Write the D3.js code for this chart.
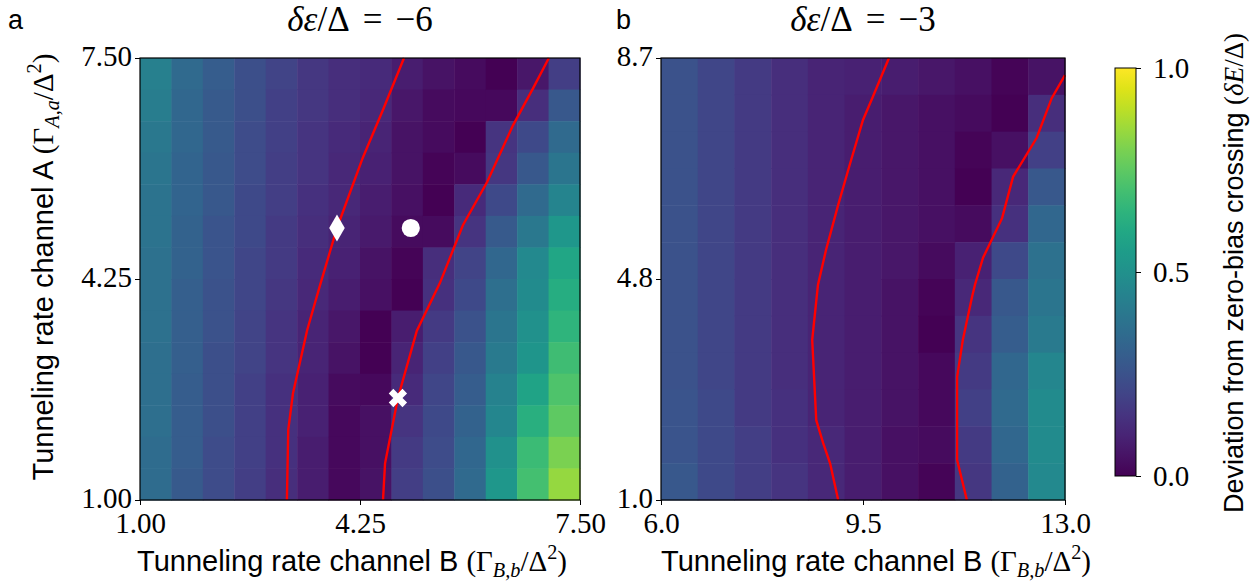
<!DOCTYPE html>
<html lang="en">
<head>
<meta charset="utf-8">
<title>Zero-bias crossing maps</title>
<script src="https://d3js.org/d3.v7.min.js"></script>
<style>
  body { margin: 0; background: white; }
  .tick text { font-family: "Liberation Serif", serif; font-size: 29px; fill: #000; }
  .tick line { stroke: #000; }
</style>
</head>
<body>
<script>
// ---- data (columns listed left -> right, each column top -> bottom) ----
var extentA = { x: [1.0, 7.5], y: [1.0, 7.5] };
var extentB = { x: [6.0, 13.0], y: [1.0, 8.7] };

var valuesA = [
  [0.43,0.42,0.40,0.39,0.38,0.38,0.37,0.37,0.37,0.36,0.36,0.36,0.35,0.35],
  [0.34,0.33,0.33,0.32,0.32,0.31,0.31,0.30,0.30,0.30,0.29,0.29,0.29,0.28],
  [0.29,0.28,0.28,0.27,0.27,0.26,0.26,0.25,0.25,0.24,0.24,0.24,0.23,0.23],
  [0.24,0.24,0.23,0.23,0.22,0.22,0.21,0.21,0.20,0.20,0.19,0.19,0.19,0.18],
  [0.20,0.19,0.19,0.18,0.18,0.17,0.17,0.16,0.15,0.15,0.14,0.14,0.14,0.13],
  [0.16,0.16,0.15,0.15,0.14,0.13,0.12,0.11,0.10,0.10,0.09,0.09,0.08,0.08],
  [0.13,0.13,0.12,0.11,0.11,0.10,0.09,0.08,0.06,0.05,0.03,0.02,0.02,0.02],
  [0.12,0.11,0.10,0.09,0.08,0.07,0.05,0.04,0.00,0.00,0.02,0.04,0.04,0.05],
  [0.08,0.06,0.05,0.05,0.04,0.03,0.01,0.00,0.08,0.10,0.12,0.15,0.17,0.18],
  [0.05,0.03,0.03,0.01,0.00,0.03,0.13,0.14,0.17,0.19,0.21,0.22,0.23,0.24],
  [0.03,0.02,0.00,0.03,0.12,0.15,0.20,0.22,0.25,0.27,0.29,0.31,0.33,0.34],
  [0.00,0.02,0.15,0.16,0.22,0.28,0.33,0.36,0.39,0.41,0.44,0.46,0.50,0.53],
  [0.06,0.13,0.22,0.27,0.34,0.40,0.47,0.48,0.50,0.52,0.58,0.63,0.68,0.70],
  [0.18,0.27,0.34,0.39,0.45,0.53,0.59,0.62,0.65,0.69,0.72,0.75,0.80,0.84]
];

var valuesB = [
  [0.25,0.25,0.25,0.25,0.25,0.25,0.25,0.25,0.25,0.26,0.26,0.27],
  [0.21,0.21,0.21,0.21,0.21,0.21,0.21,0.21,0.21,0.22,0.22,0.22],
  [0.17,0.17,0.17,0.17,0.17,0.17,0.17,0.17,0.17,0.17,0.18,0.18],
  [0.13,0.13,0.13,0.13,0.13,0.13,0.13,0.13,0.13,0.14,0.14,0.15],
  [0.10,0.10,0.10,0.10,0.10,0.10,0.10,0.10,0.10,0.10,0.11,0.11],
  [0.09,0.08,0.08,0.08,0.08,0.08,0.08,0.08,0.08,0.08,0.08,0.08],
  [0.08,0.06,0.06,0.06,0.06,0.06,0.05,0.05,0.05,0.05,0.04,0.04],
  [0.06,0.04,0.04,0.04,0.04,0.03,0.01,0.00,0.02,0.02,0.03,0.01],
  [0.04,0.03,0.01,0.00,0.03,0.09,0.11,0.15,0.17,0.19,0.17,0.16],
  [0.01,0.00,0.04,0.11,0.14,0.22,0.27,0.29,0.33,0.34,0.33,0.31],
  [0.05,0.13,0.19,0.27,0.33,0.37,0.39,0.41,0.46,0.48,0.48,0.47]
];

// contour lines [Gamma_B, Gamma_A]
var linesA = [
  [[4.90,7.50],[4.59,6.74],[4.29,6.03],[3.91,5.00],[3.66,4.16],[3.47,3.50],[3.26,2.57],[3.19,2.03],[3.17,1.00]],
  [[7.04,7.50],[6.81,7.06],[6.51,6.51],[6.13,5.68],[5.77,5.04],[5.43,4.19],[5.09,3.49],[4.81,2.50],[4.62,1.54],[4.59,1.00]]
];
var linesB = [
  [[9.95,8.70],[9.66,8.00],[9.50,7.62],[9.27,6.84],[9.07,6.14],[8.86,5.36],[8.72,4.75],[8.62,3.79],[8.69,2.39],[8.81,1.99],[8.93,1.64],[9.07,1.00]],
  [[13.0,8.40],[12.77,8.00],[12.51,7.31],[12.10,6.63],[11.91,5.91],[11.58,5.22],[11.44,4.75],[11.39,4.54],[11.23,3.79],[11.13,3.14],[11.13,1.70],[11.30,1.00]]
];

var markersA = [
  { x: 3.91, y: 5.0, shape: "diamond" },
  { x: 5.0,  y: 5.0, shape: "circle" },
  { x: 4.81, y: 2.5, shape: "cross" }
];

var ticksA = { x: [1.0, 4.25, 7.5], y: [1.0, 4.25, 7.5], xl: ["1.00","4.25","7.50"], yl: ["1.00","4.25","7.50"] };
var ticksB = { x: [6.0, 9.5, 13.0], y: [1.0, 4.85, 8.7], xl: ["6.0","9.5","13.0"], yl: ["1.0","4.8","8.7"] };
var cbarTicks = [0, 0.5, 1.0];
var cbarLabels = ["0.0", "0.5", "1.0"];

// ---- drawing ----
var W = 1255, H = 582;
var svg = d3.select("body").append("svg").attr("width", W).attr("height", H);
var color = d3.scaleSequential(d3.interpolateViridis).domain([0, 1]);

// write a mixed sans / math label
function mathText(sel, parts, size) {
  parts.forEach(function(p) {
    var t = sel.append("tspan").text(p[0]);
    var kind = p[1];
    if (kind === "sans") t.attr("font-family", "'Liberation Sans', Arial, sans-serif");
    else t.attr("font-family", "'Liberation Serif', serif");
    if (kind === "it" || kind === "subit") t.attr("font-style", "italic");
    if (kind === "subit") t.attr("font-size", size * 0.7).attr("dy", size * 0.22);
    if (kind === "unsub") t.attr("dy", -size * 0.22);
    if (kind === "sup") t.attr("font-size", size * 0.7).attr("dy", -size * 0.4);
    if (kind === "unsup") t.attr("dy", size * 0.4);
    if (p[2]) t.attr("dx", p[2]);
  });
}

function panel(opt) {
  var g = svg.append("g").attr("transform", "translate(" + opt.left + "," + opt.top + ")");
  var x = d3.scaleLinear().domain(opt.extent.x).range([0, opt.width]);
  var y = d3.scaleLinear().domain(opt.extent.y).range([opt.height, 0]);
  var nc = opt.values.length, nr = opt.values[0].length;
  var dx = (opt.extent.x[1] - opt.extent.x[0]) / nc;
  var dy = (opt.extent.y[1] - opt.extent.y[0]) / nr;

  var cells = [];
  opt.values.forEach(function(col, i) {
    col.forEach(function(v, j) {
      cells.push({ x0: opt.extent.x[0] + i * dx, y1: opt.extent.y[1] - j * dy, v: v });
    });
  });
  g.selectAll("rect.cell").data(cells).enter().append("rect")
    .attr("class", "cell")
    .attr("x", d => x(d.x0))
    .attr("y", d => y(d.y1))
    .attr("width", d => x(d.x0 + dx) - x(d.x0) + 0.5)
    .attr("height", d => y(d.y1 - dy) - y(d.y1) + 0.5)
    .attr("fill", d => color(d.v));

  var line = d3.line().x(d => x(d[0])).y(d => y(d[1]));
  g.selectAll("path.contour").data(opt.lines).enter().append("path")
    .attr("class", "contour")
    .attr("d", line)
    .attr("fill", "none")
    .attr("stroke", "#ff0000")
    .attr("stroke-width", 2.4);

  (opt.markers || []).forEach(function(m) {
    var p = g.append("path").attr("fill", "white");
    if (m.shape === "diamond") {
      p.attr("d", d3.symbol(d3.symbolDiamond, 210)())
       .attr("transform", "translate(" + x(m.x) + "," + y(m.y) + ")");
    } else if (m.shape === "circle") {
      p.attr("d", d3.symbol(d3.symbolCircle, 260)())
       .attr("transform", "translate(" + x(m.x) + "," + y(m.y) + ")");
    } else {
      p.attr("d", d3.symbol(d3.symbolCross, 210)())
       .attr("transform", "translate(" + x(m.x) + "," + y(m.y) + ") rotate(45)");
    }
  });

  g.append("rect").attr("width", opt.width).attr("height", opt.height)
    .attr("fill", "none").attr("stroke", "#000").attr("stroke-width", 1.2);

  var xa = g.append("g").attr("transform", "translate(0," + opt.height + ")")
    .call(d3.axisBottom(x).tickValues(opt.ticks.x)
      .tickFormat((d, i) => opt.ticks.xl[i]).tickSize(5).tickSizeOuter(0).tickPadding(7));
  var ya = g.append("g")
    .call(d3.axisLeft(y).tickValues(opt.ticks.y)
      .tickFormat((d, i) => opt.ticks.yl[i]).tickSize(5).tickSizeOuter(0).tickPadding(3));
  xa.select(".domain").remove();
  ya.select(".domain").remove();
  ya.selectAll(".tick text").attr("dy", "0.27em");

  // title
  var title = svg.append("text")
    .attr("x", opt.left + opt.width / 2).attr("y", 31)
    .attr("text-anchor", "middle").attr("font-size", 35);
  mathText(title, [["δε", "it"], ["/Δ", "serif"], ["=", "serif", 13], ["−" + opt.eps, "serif", 13]], 35);

  svg.append("text").attr("x", opt.letterX).attr("y", 29)
    .attr("font-family", "'Liberation Sans', Arial, sans-serif").attr("font-size", 27)
    .text(opt.letter);

  var xl = svg.append("text")
    .attr("x", opt.labelX).attr("y", 571)
    .attr("text-anchor", "middle").attr("font-size", 29);
  mathText(xl, [["Tunneling rate channel B ", "sans"], ["(Γ", "serif"], ["B,b", "subit"],
    ["/Δ", "unsub"], ["2", "sup"], [")", "unsup"]], 29);

  if (opt.ylabel) {
    var yl = svg.append("text")
      .attr("transform", "translate(" + 53 + "," + (opt.top + opt.height / 2 - 12) + ") rotate(-90)")
      .attr("text-anchor", "middle").attr("font-size", 29);
    mathText(yl, [["Tunneling rate channel A ", "sans"], ["(Γ", "serif"], ["A,a", "subit"],
      ["/Δ", "unsub"], ["2", "sup"], [")", "unsup"]], 29);
  }
}

panel({ left: 140, top: 58, width: 440, height: 442, extent: extentA, values: valuesA,
        lines: linesA, markers: markersA, ticks: ticksA, eps: "6", letter: "a", letterX: 8,
        labelX: 352, ylabel: true });
panel({ left: 661, top: 58, width: 404, height: 442, extent: extentB, values: valuesB,
        lines: linesB, markers: [], ticks: ticksB, eps: "3", letter: "b", letterX: 616,
        labelX: 876, ylabel: false });

// colorbar
var cb = { left: 1115, top: 68, width: 21, height: 408 };
var defs = svg.append("defs");
var grad = defs.append("linearGradient").attr("id", "viridis")
  .attr("x1", "0").attr("y1", "1").attr("x2", "0").attr("y2", "0");
d3.range(0, 1.0001, 0.05).forEach(function(t) {
  grad.append("stop").attr("offset", t).attr("stop-color", color(t));
});
var cg = svg.append("g").attr("transform", "translate(" + cb.left + "," + cb.top + ")");
cg.append("rect").attr("width", cb.width).attr("height", cb.height)
  .attr("fill", "url(#viridis)").attr("stroke", "#000").attr("stroke-width", 1);
var cs = d3.scaleLinear().domain([0, 1]).range([cb.height, 0]);
var ca = cg.append("g").attr("transform", "translate(" + cb.width + ",0)")
  .call(d3.axisRight(cs).tickValues(cbarTicks).tickFormat((d, i) => cbarLabels[i])
    .tickSize(5).tickSizeOuter(0).tickPadding(12));
ca.select(".domain").remove();
ca.selectAll(".tick text").attr("font-size", 32).attr("dy", "0.34em");

var cl = svg.append("text")
  .attr("transform", "translate(1243," + (cb.top + cb.height / 2 + 1) + ") rotate(-90)")
  .attr("text-anchor", "middle").attr("font-size", 27);
mathText(cl, [["Deviation from zero-bias crossing ", "sans"], ["(", "serif"], ["δE", "it"], ["/Δ)", "serif"]], 27);
</script>
</body>
</html>
